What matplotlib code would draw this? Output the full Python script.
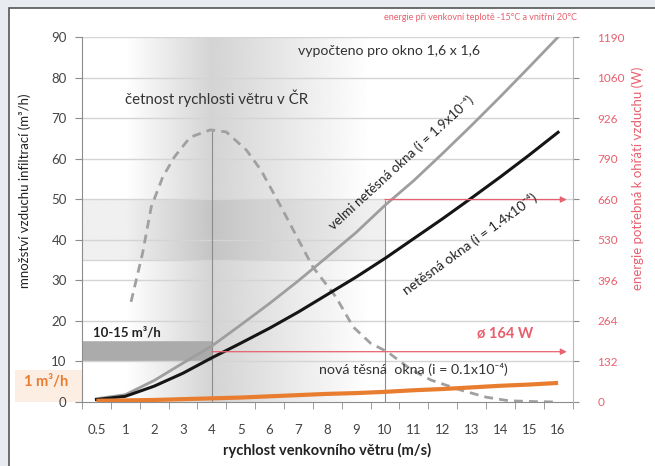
import numpy as np
import matplotlib.pyplot as plt
from matplotlib.patches import Rectangle

plt.rcParams['font.family'] = ['Lato', 'DejaVu Sans']

# kategorie rychlosti vetru (m/s)
speed_labels = ['0.5', '1', '2', '3', '4', '5', '6', '7', '8', '9', '10',
                '11', '12', '13', '14', '15', '16']
speed_vals = [0.5, 1, 2, 3, 4, 5, 6, 7, 8, 9, 10, 11, 12, 13, 14, 15, 16]

# mnozstvi infiltrace (m3/h)
very_leaky = [0.8, 1.8, 5.3, 9.6, 13.8, 19.0, 24.3, 29.9, 35.8, 41.8, 48.5,
              54.6, 61.3, 68.2, 75.3, 82.6, 90.0]
leaky = [0.6, 1.4, 3.9, 7.1, 10.9, 14.5, 18.2, 22.2, 26.5, 30.8, 35.4,
         40.3, 45.2, 50.3, 55.5, 60.9, 66.5]
tight = [0.3, 0.4, 0.5, 0.7, 0.9, 1.1, 1.4, 1.7, 2.0, 2.2, 2.5, 2.9, 3.2,
         3.6, 4.0, 4.3, 4.7]

# cetnost rychlosti vetru (krivka bez meritka)
wind_speed = [1.2, 1.6, 1.9, 2.3, 2.7, 3.25, 3.95, 4.5, 5.2, 5.7, 6.4, 7.0,
              7.5, 8.3, 8.9, 9.5, 10.1, 10.9, 11.6, 12.6, 13.5, 14.3, 15.2, 16.0]
wind_freq = [24.7, 36.7, 48.1, 55.5, 60.4, 65.3, 67.1, 66.6, 62.1, 57.2, 48.1,
             40.0, 33.3, 25.9, 18.5, 14.5, 12.3, 8.0, 5.4, 3.0, 1.2, 0.3, 0.1, 0.0]

# prava osa - energie (W)
energy_labels = ['0', '132', '264', '396', '530', '660', '790', '926', '1060', '1190']
Q_MAX = 90
W_MAX = 1190
arrow_w = [660, 164]
arrow_from = [10, 4]

red = '#e8606e'
grid_c = '#d4d4d4'


def pos(v):
    return np.interp(v, speed_vals, np.arange(len(speed_vals)))


fig = plt.figure(figsize=(6.55, 4.66), dpi=100)
fig.patch.set_facecolor('#e8ecf0')
W, H = 655, 466
fig.patches.append(Rectangle((9 / W, -0.01), 1, 1.01 - 8 / H, transform=fig.transFigure,
                             facecolor='white', edgecolor='#555555', lw=1.2, zorder=-2))
fig.patches.append(Rectangle((15 / W, 1 - 402 / H), 67 / W, 32 / H, transform=fig.transFigure,
                             facecolor='#fdeee4', edgecolor='none', zorder=-1))

ax = fig.add_axes([82 / W, 1 - 402 / H, 490.5 / W, 365 / H])
ax.set_xlim(-0.5, len(speed_vals) - 0.5)
ax.set_ylim(0, Q_MAX)

# pozadi - prechody sedi
xi = np.linspace(-0.5, len(speed_vals) - 0.5, 600)
yi = np.linspace(0, Q_MAX, 450)
XX, YY = np.meshgrid(xi, yi)
dark = np.where(XX < 4, np.clip((XX - 1.0) / 3.0, 0, 1),
                np.clip(1 - (XX - 4) / 5.5, 0, 1)) * 0.17
dark = dark + np.where((YY >= 35) & (YY <= 50) & (XX < 10), 0.06, 0)
dark = np.where((YY >= 10) & (YY <= 15) & (XX < 4), 0.33, dark)
ax.imshow(1 - dark, cmap='gray', vmin=0, vmax=1, origin='lower', aspect='auto',
          extent=(xi[0], xi[-1], 0, Q_MAX), zorder=0, interpolation='bilinear')

for y in range(10, Q_MAX + 1, 10):
    ax.axhline(y, color=grid_c, lw=1, zorder=1)
ax.axhline(35, xmax=pos(10) / (len(speed_vals) - 0.5), color=grid_c, lw=1, zorder=1)

x = np.arange(len(speed_vals))
ax.vlines(pos(4), 0, max(wind_freq), color='#8c8c8c', lw=0.8, zorder=2)
ax.vlines(pos(10), 0, arrow_w[0] * Q_MAX / W_MAX, color='#8c8c8c', lw=0.8, zorder=2)

ax.plot(pos(np.array(wind_speed)), wind_freq, color='#a0a0a0', lw=2,
        dashes=(3.2, 2.2), zorder=3)
ax.plot(x, very_leaky, color='#9e9e9e', lw=2, zorder=4)
ax.plot(x, leaky, color='#151515', lw=2.2, zorder=4)
ax.plot(x, tight, color='#e87d2f', lw=3, zorder=4, solid_capstyle='butt')

for w, v in zip(arrow_w, arrow_from):
    yv = w * Q_MAX / W_MAX
    ax.annotate('', xy=(16.3, yv), xytext=(pos(v), yv),
                arrowprops=dict(arrowstyle='-|>', color=red, lw=0.9,
                                mutation_scale=9, shrinkA=0, shrinkB=0), zorder=5)

ax.text(pos(10.55), 59.0, 'velmi netěsná okna (i = 1.9x10⁻⁴)', rotation=42.5,
        ha='center', va='center', fontsize=9.6, color='#222222', zorder=6)
ax.text(pos(12.94), 39.0, 'netěsná okna (i = 1.4x10⁻⁴)', rotation=36,
        ha='center', va='center', fontsize=10, color='#222222', zorder=6)
ax.text(pos(11.0), 7.9, 'nová těsná  okna (i = 0.1x10⁻⁴)', ha='center', va='center',
        fontsize=10.3, color='#333333', zorder=6)
ax.text(pos(14.15), 16.8, 'ø 164 W', ha='center', va='center', fontsize=10.5,
        color=red, fontweight='bold', zorder=6)
ax.text(-0.12, 17.2, '10-15 m³/h', ha='left', va='center', fontsize=9.5,
        fontweight='bold', color='#222222', zorder=6)
ax.text(pos(1.0), 74.8, 'četnost rychlosti větru v ČR', ha='left', va='center',
        fontsize=10.8, color='#333333', zorder=6)
ax.text(pos(7.0), 86.6, 'vypočteno pro okno 1,6 x 1,6', ha='left', va='center',
        fontsize=10.2, color='#333333', zorder=6)

ax.set_xticks(x)
ax.set_xticklabels(speed_labels)
ax.set_xticks(np.arange(-0.5, len(speed_vals), 1), minor=True)
ax.tick_params(axis='x', which='major', length=0, pad=16, labelsize=9.5, labelcolor='#444444')
ax.tick_params(axis='x', which='minor', length=5, color='#8c8c8c', direction='out')
ax.set_yticks(range(0, Q_MAX + 1, 10))
ax.tick_params(axis='y', length=5, color='#8c8c8c', labelsize=9.5, labelcolor='#444444', pad=6)
for s in ['top', 'right']:
    ax.spines[s].set_visible(False)
for s in ['left', 'bottom']:
    ax.spines[s].set_color('#8c8c8c')
ax.set_xlabel('rychlost venkovního větru (m/s)', fontsize=10.5, fontweight='bold',
              color='#222222', labelpad=5)

ax2 = ax.twinx()
ax2.set_ylim(0, Q_MAX)
ax2.set_yticks(range(0, Q_MAX + 1, 10))
ax2.set_yticklabels(energy_labels)
ax2.tick_params(axis='y', length=4, color='#8c8c8c', labelsize=8.5, labelcolor=red, pad=14)
for s in ['top', 'left', 'bottom']:
    ax2.spines[s].set_visible(False)
ax2.spines['right'].set_color('#b8b8b8')

fig.text(25 / W, 1 - 191 / H, 'množství vzduchu infiltrací (m³/h)', rotation=90,
         ha='center', va='center', fontsize=9.5, color='#222222')
fig.text(638 / W, 1 - 178 / H, 'energie potřebná k ohřátí vzduchu (W)', rotation=90,
         ha='center', va='center', fontsize=9.5, color=red)
fig.text(480 / W, 1 - 18 / H, 'energie při venkovní teplotě -15°C a vnitřní 20°C',
         ha='center', va='center', fontsize=6.5, color=red)
fig.text(46 / W, 1 - 382 / H, '1 m³/h', ha='center', va='center', fontsize=10.5,
         color='#e87d2f', fontweight='bold')

fig.savefig('out.png', dpi=100, facecolor=fig.get_facecolor())
